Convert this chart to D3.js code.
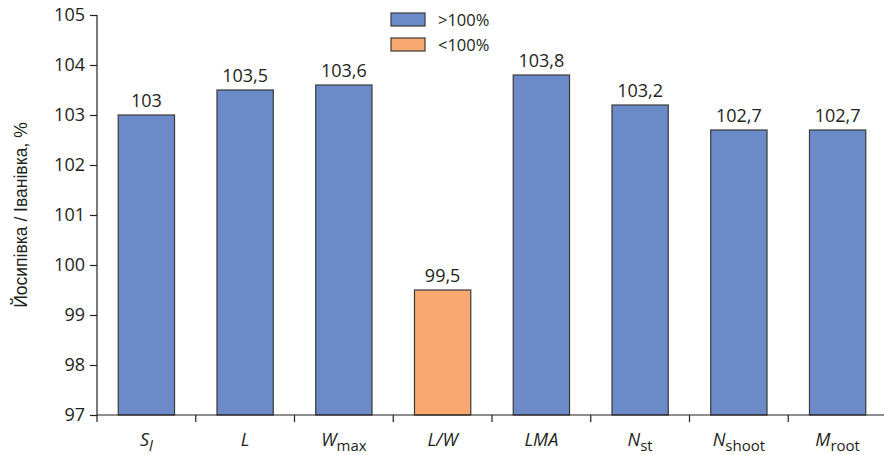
<!DOCTYPE html>
<html>
<head>
<meta charset="utf-8">
<script src="https://cdn.jsdelivr.net/npm/d3@7"></script>
<style>
  body { margin: 0; background: #fff; }
  text { font-family: "Open Sans", "Noto Sans", sans-serif; fill: #231f20; }
</style>
</head>
<body>
<script>
const width = 884;
const height = 455;

// data
const categories = ["Sl", "L", "Wmax", "L/W", "LMA", "Nst", "Nshoot", "Mroot"];
const mainParts = ["S", "L", "W", "L/W", "LMA", "N", "N", "M"];
const subParts = ["l", "", "max", "", "", "st", "shoot", "root"];
const subItalic = [true, false, false, false, false, false, false, false];
const values = [103, 103.5, 103.6, 99.5, 103.8, 103.2, 102.7, 102.7];
const yTicks = [97, 98, 99, 100, 101, 102, 103, 104, 105];
const legendLabels = [">100%", "<100%"];

const colorUp = "#6b8ac7";
const colorDown = "#f9a86f";

const margin = {top: 15, right: -3, bottom: 40, left: 97};

const svg = d3.select("body").append("svg").attr("width", width).attr("height", height);

const x = d3.scaleBand()
  .domain(categories)
  .range([margin.left, width - margin.right])
  .paddingInner(0.43)
  .paddingOuter(0.215);

const y = d3.scaleLinear()
  .domain([97, 105])
  .range([height - margin.bottom, margin.top]);

const fmt = v => String(v).replace(".", ",");

// bars
svg.selectAll("rect.bar")
  .data(values)
  .enter()
  .append("rect")
  .attr("class", "bar")
  .attr("x", (d, i) => x(categories[i]))
  .attr("y", d => y(d))
  .attr("width", x.bandwidth())
  .attr("height", d => y(97) - y(d))
  .style("fill", d => d >= 100 ? colorUp : colorDown)
  .style("stroke", "#3a3a3a")
  .style("stroke-width", 1.2);

// value labels
svg.selectAll("text.val")
  .data(values)
  .enter()
  .append("text")
  .attr("class", "val")
  .attr("x", (d, i) => x(categories[i]) + x.bandwidth() / 2)
  .attr("y", d => y(d) - 8)
  .attr("text-anchor", "middle")
  .style("font-size", "18px")
  .text(d => fmt(d));

// y axis
const yAxis = svg.append("g")
  .attr("transform", `translate(${margin.left},0)`)
  .call(d3.axisLeft(y).tickValues(yTicks).tickSize(7).tickPadding(5).tickFormat(d => d));
yAxis.select(".domain").attr("d", `M0,${y(105)}V${y(97) + 7}`).style("stroke", "#231f20").style("stroke-width", 1.2);
yAxis.selectAll(".tick line").style("stroke", "#231f20").style("stroke-width", 1.2);
yAxis.selectAll(".tick text").style("font-size", "18px").style("fill", "#231f20")
  .style("font-family", "'Open Sans', sans-serif");

// x axis line
svg.append("line")
  .attr("x1", margin.left).attr("x2", width)
  .attr("y1", y(97)).attr("y2", y(97))
  .style("stroke", "#231f20").style("stroke-width", 1.2);

// x ticks at band boundaries
const step = x.step();
const bounds = categories.slice(1).map(c => x(c) - (step - x.bandwidth()) / 2);
svg.selectAll("line.xtick")
  .data(bounds)
  .enter()
  .append("line")
  .attr("class", "xtick")
  .attr("x1", d => d).attr("x2", d => d)
  .attr("y1", y(97)).attr("y2", y(97) + 7)
  .style("stroke", "#231f20").style("stroke-width", 1.2);

// x labels
const xl = svg.selectAll("text.xl")
  .data(categories)
  .enter()
  .append("text")
  .attr("class", "xl")
  .attr("x", d => x(d) + x.bandwidth() / 2)
  .attr("y", y(97) + 31)
  .attr("text-anchor", "middle")
  .style("font-size", "18px");
xl.append("tspan")
  .style("font-style", "italic")
  .text((d, i) => mainParts[i]);
xl.append("tspan")
  .attr("dy", 5)
  .style("font-size", "15px")
  .style("font-style", (d, i) => subItalic[i] ? "italic" : "normal")
  .text((d, i) => subParts[i]);

// y label
svg.append("text")
  .attr("transform", `translate(27,${(y(97) + y(105)) / 2}) rotate(-90)`)
  .attr("text-anchor", "middle")
  .style("font-family", "'Liberation Sans', Arial, sans-serif")
  .style("font-size", "17.5px")
  .text("Йосипівка / Іванівка, %");

// legend
const legend = svg.selectAll("g.legend")
  .data(legendLabels)
  .enter()
  .append("g")
  .attr("class", "legend")
  .attr("transform", (d, i) => `translate(391,${13 + i * 25})`);
legend.append("rect")
  .attr("width", 34).attr("height", 13)
  .style("fill", (d, i) => i === 0 ? colorUp : colorDown)
  .style("stroke", "#3a3a3a").style("stroke-width", 1.2);
legend.append("text")
  .attr("x", 47).attr("y", 13)
  .style("font-size", "16.5px")
  .text(d => d);
</script>
</body>
</html>
